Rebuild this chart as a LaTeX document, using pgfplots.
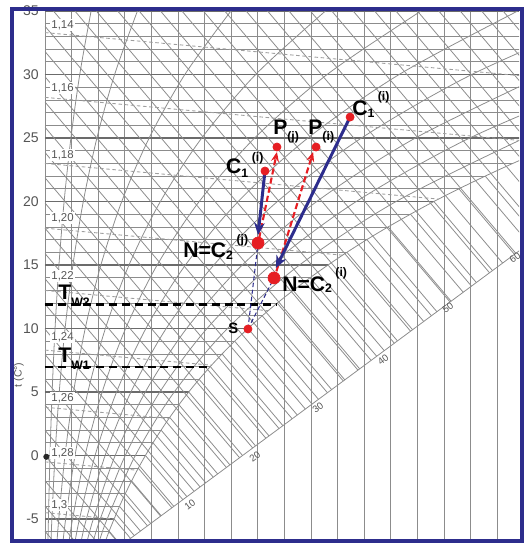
\documentclass[border=0pt]{standalone}
\usepackage{pgfplots}
\pgfplotsset{compat=1.18}
\usepackage{fontspec}
\setmainfont{Liberation Sans}
\usetikzlibrary{arrows.meta}
\definecolor{navy}{RGB}{45,45,140}
\definecolor{rdot}{RGB}{230,30,35}
\definecolor{lab}{RGB}{85,85,85}
\tikzset{
  gl/.style={draw=black!45, line width=0.45pt},
  gl5/.style={draw=black!58, line width=0.7pt},
  dens/.style={draw=black!38, line width=0.5pt, dash pattern=on 2pt off 1.5pt},
}
\begin{document}
\begin{tikzpicture}
\begin{axis}[
  scale only axis, width=9.48cm, height=10.56cm,
  xmin=0, xmax=17.82, ymin=-6.575, ymax=35.0,
  clip mode=individual,
  axis line style={draw=none},
  xtick=\empty,
  ytick={-5,0,...,35},
  ytick pos=left, tick align=inside, major tick length=0.06cm,
  tick style={draw=lab, line width=0.5pt},
  yticklabel style={font=\fontsize{8}{8}\selectfont, text=lab},
  /pgf/number format/assume math mode=true,
]
% vertical lines (humidity ratio, g/kg)
\foreach \x in {0,...,17} {\edef\tmp{\noexpand\addplot[gl] coordinates {(\x,-7) (\x,36)};}\tmp}
% isotherms up to saturation
\foreach \t/\xe in {-6/2.403, -4/2.80, -3/3.02, -2/3.256, -1/3.507, 1/4.06, 2/4.364, 3/4.689, 4/5.035, 6/5.794, 7/6.213, 8/6.658, 9/7.131, 11/8.166, 12/8.731, 13/9.330, 14/9.965, 16/11.35, 17/12.10, 18/12.90, 19/13.74, 21/15.56, 22/16.55, 23/17.59, 24/18, 26/18, 27/18, 28/18, 29/18, 31/18, 32/18, 33/18, 34/18}
 {\edef\tmp{\noexpand\addplot[gl] coordinates {(0,\t) (\xe,\t)};}\tmp}
\foreach \t/\xe in {-5/2.598, 0/3.775, 5/5.403, 10/7.633, 15/10.64, 20/14.62, 25/18, 30/18, 35/18}
 {\edef\tmp{\noexpand\addplot[gl5] coordinates {(0,\t) (\xe,\t)};}\tmp}
% enthalpy lines (every 2 kJ/kg)
\foreach \a/\xe/\te in {-5.964/1.380/-9.372, -3.976/1.874/-8.606, -1.988/2.369/-7.839, 0/2.863/-7.073, 1.988/3.358/-6.307, 3.976/3.853/-5.540, 5.964/4.347/-4.774, 7.952/4.842/-4.007, 9.940/5.336/-3.241, 11.928/5.831/-2.474, 13.917/6.326/-1.707, 15.905/6.820/-0.942, 17.893/7.315/-0.175, 19.881/7.809/0.591, 21.869/8.304/1.358, 23.857/8.798/2.124, 25.845/9.293/2.890, 27.833/9.788/3.657, 29.821/10.282/4.423, 31.809/10.777/5.190, 33.797/11.271/5.956, 35.785/11.766/6.723, 37.773/12.261/7.490, 39.761/12.755/8.256, 41.750/13.250/9.022, 43.738/13.744/9.788, 45.726/14.239/10.555, 47.714/14.734/11.322, 49.702/15.228/12.088, 51.690/15.723/12.855, 53.678/16.217/13.621, 55.666/16.712/14.387, 57.654/17.206/15.153, 59.642/17.701/15.920, 61.630/18.5/15.93, 63.618/18.5/17.92, 65.606/18.5/19.91, 67.594/18.5/21.89, 69.582/18.5/23.88, 71.571/18.5/25.87, 73.559/18.5/27.86, 75.547/18.5/29.85, 77.535/18.5/31.84, 79.523/18.5/33.82, 81.511/18.5/35.81}
 {\edef\tmp{\noexpand\addplot[gl] coordinates {(0,\a) (\xe,\te)};}\tmp}
% fog isotherms
\foreach \xs/\t/\xe/\te in {2.403/-6/2.847/-7.098, 2.598/-5/3.216/-6.526, 2.80/-4/3.589/-5.948, 3.02/-3/3.973/-5.354, 3.256/-2/4.367/-4.743, 3.507/-1/4.770/-4.118, 3.775/0/5.183/-3.478, 4.06/1/5.607/-2.821, 4.364/2/6.043/-2.146, 4.689/3/6.491/-1.451, 5.035/4/6.952/-0.737, 5.403/5/7.427/0.0, 5.794/6/7.916/0.757, 6.213/7/8.423/1.542, 6.658/8/8.945/2.351, 7.131/9/9.485/3.188, 7.633/10/10.042/4.051, 8.166/11/10.618/4.944, 8.731/12/11.214/5.867, 9.330/13/11.831/6.823, 9.965/14/12.470/7.814, 10.64/15/13.133/8.841, 11.35/16/13.819/9.903, 12.10/17/14.528/11.003, 12.90/18/15.268/12.149, 13.74/19/16.033/13.335, 14.62/20/16.823/14.559, 15.56/21/17.649/15.839, 16.55/22/18.507/17.168}
 {\edef\tmp{\noexpand\addplot[gl] coordinates {(\xs,\t) (\xe,\te)};}\tmp}
% relative humidity curves
\addplot[gl, smooth] coordinates {(0.1111,-7) (0.1294,-5) (0.1877,0) (0.2679,5) (0.3772,10) (0.5240,15) (0.7189,20) (0.9745,25) (1.3064,30) (1.7326,35) (1.8307,36)};
\addplot[gl, smooth] coordinates {(0.2221,-7) (0.2588,-5) (0.3755,0) (0.5361,5) (0.7549,10) (1.0489,15) (1.4394,20) (1.9519,25) (2.6182,30) (3.4745,35) (3.672,36)};
\addplot[gl, smooth] coordinates {(0.4444,-7) (0.5178,-5) (0.7514,0) (1.0732,5) (1.5116,10) (2.1013,15) (2.8854,20) (3.9163,25) (5.2583,30) (6.9886,35) (7.388,36)};
\addplot[gl, smooth] coordinates {(0.6668,-7) (0.7770,-5) (1.1278,0) (1.6112,5) (2.2701,10) (3.1573,15) (4.3381,20) (5.8930,25) (7.9209,30) (10.542,35) (11.148,36)};
\addplot[gl, smooth] coordinates {(0.8894,-7) (1.0364,-5) (1.5047,0) (2.1500,5) (3.0305,10) (4.2169,15) (5.7976,20) (7.8822,25) (10.606,30) (14.136,35) (14.954,36)};
\addplot[gl, smooth] coordinates {(1.1122,-7) (1.2962,-5) (1.8819,0) (2.6899,5) (3.7927,10) (5.2801,15) (7.2640,20) (9.8841,25) (13.3145,30) (17.771,35) (18.805,36)};
\addplot[gl, smooth] coordinates {(1.3351,-7) (1.5560,-5) (2.2597,0) (3.2306,5) (4.5568,10) (6.3468,15) (8.7372,20) (11.899,25) (16.046,30) (21.448,35)};
\addplot[gl, smooth] coordinates {(1.5581,-7) (1.8161,-5) (2.6379,0) (3.7724,5) (5.3228,10) (7.4174,15) (10.2172,20) (13.926,25) (18.801,30)};
\addplot[gl, smooth] coordinates {(1.7813,-7) (2.0764,-5) (3.0166,0) (4.3151,5) (6.0907,10) (8.4915,15) (11.704,20) (15.967,25) (21.580,30)};
\addplot[gl, smooth] coordinates {(2.0048,-7) (2.3369,-5) (3.3958,0) (4.8586,5) (6.8604,10) (9.5692,15) (13.1985,20) (18.021,25)};
% saturation curve
\addplot[gl, smooth] coordinates {(2.2284,-7) (2.403,-6) (2.598,-5) (2.80,-4) (3.02,-3) (3.256,-2) (3.507,-1) (3.775,0) (4.06,1) (4.364,2) (4.689,3) (5.035,4) (5.403,5) (5.794,6) (6.213,7) (6.658,8) (7.131,9) (7.633,10) (8.166,11) (8.731,12) (9.330,13) (9.965,14) (10.64,15) (11.35,16) (12.10,17) (12.90,18) (13.74,19) (14.62,20) (15.56,21) (16.55,22) (17.59,23) (18.69,24)};
% enthalpy scale line
\addplot[gl] coordinates {(3.0,-6.861) (18.0,16.383)};
% density lines
\foreach \a/\xe/\te in {33.3/18/29.88, 28.2/18/24.78, 23.0/14.8/20.19, 17.9/11.2/15.77, 13.0/8.4/11.40, 8.3/6.25/7.11, 3.8/4.66/2.91, -0.5/3.47/-1.16, -4.5/2.61/-5.0}
 {\edef\tmp{\noexpand\addplot[dens] coordinates {(0,\a) (\xe,\te)};}\tmp}
% density labels
\foreach \t/\l in {33.9/{1,14}, 28.94/{1,16}, 23.66/{1,18}, 18.7/{1,20}, 14.15/{1,22}, 9.3/{1,24}, 4.53/{1,26}, 0.2/{1,28}, -3.9/{1,3}}
 {\edef\tmp{\noexpand\node[anchor=west, fill=white, inner sep=0.6pt, text=lab, font=\noexpand\fontsize{6.5}{6.5}\noexpand\selectfont] at (axis cs:0.19,\t) {\l};}\tmp}
% enthalpy labels
\foreach \x/\t/\l in {5.45/-3.90/10, 7.89/-0.12/20, 10.26/3.74/30, 12.71/7.52/40, 15.15/11.61/50, 17.67/15.55/60}
 {\edef\tmp{\noexpand\node[rotate=37, text=lab, inner sep=0pt, font=\noexpand\fontsize{5.5}{5.5}\noexpand\selectfont] at (axis cs:\x,\t) {\l};}\tmp}
% axis title
\node[rotate=90, text=lab, font=\fontsize{6}{6}\selectfont] at (axis cs:-0.977,6.34) {t (C°)};
\addplot[only marks, mark=*, mark size=1.5pt, black!85] coordinates {(0.05,-0.1)};
% T_W lines
\addplot[black, line width=1.4pt, dash pattern=on 4.5pt off 2.8pt] coordinates {(0,11.9) (8.72,11.9)};
\addplot[black, line width=1.4pt, dash pattern=on 4.5pt off 2.8pt] coordinates {(0,6.97) (6.09,6.97)};
\node[anchor=base west, inner sep=0] at (axis cs:0.49,12.30) {\fontsize{12}{12}\selectfont\bfseries T\raisebox{-4pt}{\fontsize{7}{7}\selectfont W2}};
\node[anchor=base west, inner sep=0] at (axis cs:0.49,7.36) {\fontsize{12}{12}\selectfont\bfseries T\raisebox{-4pt}{\fontsize{7}{7}\selectfont W1}};
% thin dashed lines from S
\addplot[navy, line width=0.6pt, dash pattern=on 2.5pt off 1.5pt] coordinates {(7.63,9.96) (8.01,16.73)};
\addplot[navy, line width=0.6pt, dash pattern=on 2.5pt off 1.5pt] coordinates {(7.63,9.96) (8.61,13.98)};
% red dashed arrows
\addplot[rdot, line width=1.2pt, dash pattern=on 3.5pt off 1.8pt, -{Stealth[length=5.5pt,width=4.5pt]}] coordinates {(8.70,14.5) (10.08,23.9)};
\addplot[rdot, line width=1.2pt, dash pattern=on 3.5pt off 1.8pt, -{Stealth[length=5.5pt,width=4.5pt]}] coordinates {(8.05,17.1) (8.72,23.9)};
% blue arrows
\addplot[navy, line width=1.7pt, -{Stealth[length=7pt,width=6pt]}] coordinates {(11.47,26.65) (8.68,14.76)};
\addplot[navy, line width=1.7pt, -{Stealth[length=7pt,width=6pt]}] coordinates {(8.27,22.40) (8.01,17.36)};
% points
\addplot[only marks, mark=*, mark size=2.3pt, rdot] coordinates {(11.47,26.65) (10.19,24.29) (8.72,24.29) (8.27,22.40) (7.63,9.96)};
\addplot[only marks, mark=*, mark size=3.4pt, rdot] coordinates {(8.01,16.73) (8.61,13.98)};
% point labels
\node[anchor=base west, inner sep=0] at (axis cs:11.54,26.81) {\fontsize{12}{12}\selectfont\bfseries C\raisebox{-1.2pt}{\fontsize{7}{7}\selectfont 1}\,\raisebox{8pt}{\fontsize{7}{7}\selectfont (i)}};
\node[anchor=base west, inner sep=0] at (axis cs:6.80,22.24) {\fontsize{12}{12}\selectfont\bfseries C\raisebox{-2.3pt}{\fontsize{7}{7}\selectfont 1}\,\raisebox{6.5pt}{\fontsize{7}{7}\selectfont (i)}};
\node[anchor=base west, inner sep=0] at (axis cs:8.57,25.24) {\fontsize{12}{12}\selectfont\bfseries P\raisebox{-3pt}{\fontsize{7}{7}\selectfont (j)}};
\node[anchor=base west, inner sep=0] at (axis cs:9.89,25.24) {\fontsize{12}{12}\selectfont\bfseries P\raisebox{-3pt}{\fontsize{7}{7}\selectfont (i)}};
\node[anchor=base west, inner sep=0] at (axis cs:5.19,15.63) {\fontsize{12}{12}\selectfont\bfseries N=C\raisebox{-1.7pt}{\fontsize{7}{7}\selectfont 2}\,\raisebox{7.5pt}{\fontsize{7}{7}\selectfont (j)}};
\node[anchor=base west, inner sep=0] at (axis cs:8.91,12.95) {\fontsize{12}{12}\selectfont\bfseries N=C\raisebox{-1pt}{\fontsize{7}{7}\selectfont 2}\,\raisebox{8pt}{\fontsize{7}{7}\selectfont (i)}};
\node[anchor=base west, inner sep=0] at (axis cs:6.88,9.57) {\fontsize{8.5}{8.5}\selectfont\bfseries S};
% frame and bounding box coordinates
\coordinate (fa) at (axis cs:-1.2406,35.157);
\coordinate (fb) at (axis cs:17.932,-6.732);
\coordinate (ba) at (axis cs:-1.6917,35.866);
\coordinate (bb) at (axis cs:18.045,-6.968);
\end{axis}
\path (ba) rectangle (bb);
\draw[navy, line width=0.08cm] (fa) rectangle (fb);
\end{tikzpicture}
\end{document}
